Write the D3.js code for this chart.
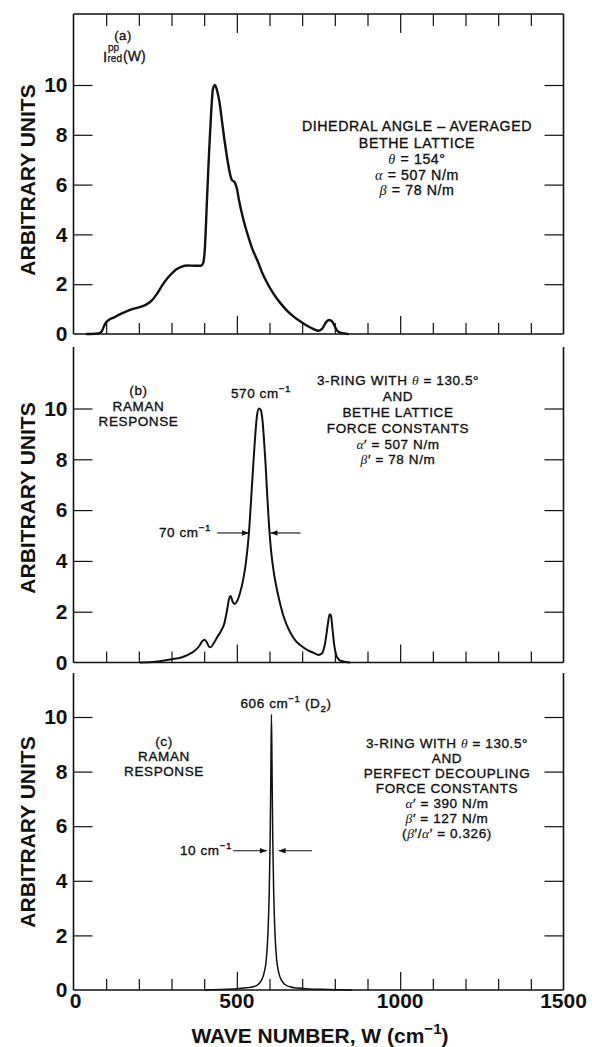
<!DOCTYPE html>
<html><head><meta charset="utf-8">
<script src="https://cdn.jsdelivr.net/npm/d3@7"></script>
<style>
html,body{margin:0;padding:0;background:#fff;}
svg{display:block;}
text{font-family:"Liberation Sans",Arial,Helvetica,sans-serif;fill:#111;}
</style></head><body>
<svg id="chart" width="592" height="1047"></svg>
<script>
// ---------------- data ----------------
const xTicks = d3.range(0, 1501, 100);
const xTickLabels = [0, 500, 1000, 1500];
const yTicks = [0, 2, 4, 6, 8, 10];

// (a) I_red^pp(W), dihedral-angle averaged Bethe lattice
const seriesA = [[40,0],[75,0.02],[86,0.1],[93,0.3],[100,0.47],[112,0.6],[123,0.66],[140,0.78],[164,0.92],[185,1.02],[205,1.09],[225,1.2],[240,1.35],[255,1.6],[270,1.92],[285,2.2],[300,2.42],[315,2.6],[330,2.7],[350,2.75],[370,2.74],[390,2.74],[397,2.85],[402,3.4],[408,5.2],[415,7.3],[421,8.8],[427,9.85],[433,10.0],[440,9.75],[447,9.3],[455,8.5],[462,7.8],[470,7.1],[478,6.5],[485,6.18],[493,6.1],[500,5.85],[507,5.35],[520,4.6],[533,4.0],[548,3.4],[563,2.95],[578,2.45],[593,2.05],[613,1.6],[634,1.23],[655,0.92],[675,0.69],[695,0.5],[715,0.33],[735,0.2],[750,0.13],[762,0.22],[772,0.45],[782,0.56],[792,0.5],[800,0.3],[808,0.12],[820,0.04],[840,0]];

// (b) Raman response, 3-ring with Bethe lattice force constants
const seriesB = [[205,0],[250,0.03],[300,0.13],[330,0.2],[350,0.3],[370,0.45],[385,0.65],[395,0.85],[401,0.9],[408,0.8],[415,0.62],[420,0.6],[430,0.78],[440,1.0],[452,1.25],[462,1.55],[470,2.05],[476,2.5],[481,2.62],[487,2.4],[493,2.3],[500,2.4],[510,2.75],[520,3.3],[528,3.95],[537,5.1],[547,7.1],[555,8.7],[562,9.75],[568,10.0],[573,9.95],[578,9.6],[583,8.8],[588,7.8],[593,6.6],[598,5.5],[604,4.5],[612,3.65],[620,3.05],[630,2.45],[640,1.95],[652,1.5],[665,1.15],[680,0.85],[695,0.68],[715,0.5],[735,0.38],[750,0.3],[760,0.35],[770,0.75],[778,1.45],[784,1.9],[788,1.85],[793,1.3],[798,0.7],[804,0.3],[812,0.12],[825,0.04],[845,0]];

// (c) Raman response, 3-ring with perfect decoupling force constants
const seriesC = [[400,0],[450,0.02],[500,0.05],[530,0.08],[550,0.12],[565,0.2],[575,0.35],[583,0.6],[590,1.1],[595,2.0],[599,3.5],[602,5.5],[604,7.8],[606,10.1],[608,7.8],[610,5.5],[613,3.5],[617,2.0],[622,1.1],[629,0.6],[637,0.35],[647,0.2],[662,0.12],[685,0.07],[720,0.04],[780,0.02],[850,0]];

// half-width markers [left head, right head, left tail, right tail, level]
const fwhmB = [537, 603, 440, 695, 5.1];
const fwhmC = [592, 628, 489, 730, 5.1];

// ---------------- layout ----------------
const svg = d3.select('#chart');
const x = d3.scaleLinear().domain([0, 1500]).range([73.5, 563.5]);

const panels = [
  {key:'a', data:seriesA, top:14,  y0:334,   y10:85,    border:true,  lw:2.4, titleY:180},
  {key:'b', data:seriesB, top:347, y0:662.5, y10:408.5, border:false, lw:2.0, titleY:498},
  {key:'c', data:seriesC, top:673, y0:990,   y10:717,   border:false, lw:1.5, titleY:832}
];

svg.append('defs').append('marker')
  .attr('id','ah').attr('viewBox','0 0 10 10').attr('refX',10).attr('refY',5)
  .attr('markerWidth',8).attr('markerHeight',7).attr('markerUnits','userSpaceOnUse')
  .attr('orient','auto')
  .append('path').attr('d','M0,1 L10,5 L0,9 Z').attr('fill','#111');

function rich(g, px, py, str, size, opts = {}) {
  const t = g.append('text').attr('x', px).attr('y', py)
    .attr('text-anchor', opts.anchor || 'middle')
    .style('font-size', size + 'px')
    .style('font-weight', opts.weight || 'normal')
    .style('letter-spacing', (opts.ls || 0) + 'px');
  if (opts.stroke) t.style('stroke', '#111').style('stroke-width', opts.stroke);
  let cur = 0;
  str.split(/(\^\{[^}]*\}|_\{[^}]*\}|[θαβ])/).filter(s => s.length).forEach(s => {
    let shift = 0, txt = s, fs = null, greek = false;
    if (s.startsWith('^{')) { shift = -0.42 * size; txt = s.slice(2, -1); fs = 0.72 * size; }
    else if (s.startsWith('_{')) { shift = 0.28 * size; txt = s.slice(2, -1); fs = 0.72 * size; }
    else if (/[θαβ]/.test(s)) greek = true;
    const sp = t.append('tspan').attr('dy', shift - cur).text(txt);
    cur = shift;
    if (fs) sp.style('font-size', fs + 'px');
    if (greek) sp.style('font-family', '"Liberation Serif",serif').style('font-style', 'italic')
      .style('font-weight', 'normal').style('stroke', 'none');
  });
  return t;
}

const panelY = {};
panels.forEach(p => {
  const y = d3.scaleLinear().domain([0, 10]).range([p.y0, p.y10]);
  panelY[p.key] = y;
  const g = svg.append('g').attr('class', 'panel-' + p.key);
  const xl = x(0), xr = x(1500);

  // frame lines
  const frame = g.append('g').attr('stroke', '#111').attr('stroke-width', 1.6).attr('fill', 'none');
  frame.append('line').attr('x1', xl).attr('x2', xl).attr('y1', p.top).attr('y2', p.y0);
  frame.append('line').attr('x1', xr).attr('x2', xr).attr('y1', p.top).attr('y2', p.y0);
  frame.append('line').attr('x1', xl).attr('x2', xr).attr('y1', p.y0).attr('y2', p.y0);
  if (p.border) frame.append('line').attr('x1', xl).attr('x2', xr).attr('y1', p.top).attr('y2', p.top);

  // bottom ticks (inward)
  const bx = g.append('g').attr('transform', `translate(0,${p.y0})`)
    .call(d3.axisBottom(x).tickValues(xTicks.filter(v => v > 0 && v < 1500)).tickSize(-11).tickFormat(''));
  bx.select('.domain').remove();
  bx.selectAll('.tick line').attr('y2', d => d % 500 === 0 ? -18 : -11).attr('stroke', '#111').attr('stroke-width', 1.2);

  if (p.border) {
    const tx = g.append('g').attr('transform', `translate(0,${p.top})`)
      .call(d3.axisTop(x).tickValues(xTicks.filter(v => v > 0 && v < 1500)).tickSize(-12).tickFormat(''));
    tx.select('.domain').remove();
    tx.selectAll('.tick line').attr('y2', d => d % 500 === 0 ? 19 : 12).attr('stroke', '#111').attr('stroke-width', 1.2);
  }

  // left axis
  const ly = g.append('g').attr('transform', `translate(${xl},0)`)
    .call(d3.axisLeft(y).tickValues(yTicks).tickSize(-19).tickPadding(6).tickFormat(d3.format('d')));
  ly.select('.domain').remove();
  ly.selectAll('.tick line').attr('stroke', '#111').attr('stroke-width', 1.2).attr('opacity', d => d === 0 ? 0 : 1);
  ly.selectAll('.tick text').style('font-size', '21px').style('font-weight', 'bold')
    .style('font-family', '"Liberation Sans",Arial,sans-serif').attr('fill', '#111');

  // right axis
  const ry = g.append('g').attr('transform', `translate(${xr},0)`)
    .call(d3.axisRight(y).tickValues(yTicks.filter(v => v > 0)).tickSize(-19).tickFormat(''));
  ry.select('.domain').remove();
  ry.selectAll('.tick line').attr('stroke', '#111').attr('stroke-width', 1.2);

  // y title
  g.append('text').attr('transform', `translate(35,${p.titleY}) rotate(-90)`)
    .attr('text-anchor', 'middle').style('font-size', '21px').style('font-weight', 'bold')
    .text('ARBITRARY UNITS');

  // curve
  const line = d3.line().x(d => x(d[0])).y(d => y(d[1])).curve(d3.curveMonotoneX);
  g.append('path').datum(p.data).attr('d', line)
    .attr('fill', 'none').attr('stroke', '#111').attr('stroke-width', p.lw)
    .attr('stroke-linejoin', 'round').attr('stroke-linecap', 'round');
});

// bottom tick labels and title
const lab = svg.append('g');
xTickLabels.forEach(v => {
  lab.append('text').attr('x', x(v) + (v === 0 ? 2 : 0)).attr('y', 1008).attr('text-anchor', 'middle')
    .style('font-size', '21px').style('font-weight', 'bold').text(v);
});
rich(lab, 320, 1043, 'WAVE NUMBER, W (cm^{−1})', 21, {weight: 'bold'});

// ---------------- annotations ----------------
const ann = svg.append('g');
const AS = 13.5, ALS = 0.6, AST = 0.35;
const o = {ls: ALS, stroke: AST};

// (a)
rich(ann, 123, 40, '(a)', 13, o);
ann.append('text').attr('x', 103).attr('y', 62).style('font-size', '15px').style('stroke', '#111').style('stroke-width', 0.3).text('I');
ann.append('text').attr('x', 108).attr('y', 51).style('font-size', '10px').style('stroke', '#111').style('stroke-width', 0.25).text('pp');
ann.append('text').attr('x', 107.5).attr('y', 62).style('font-size', '10px').style('stroke', '#111').style('stroke-width', 0.25).text('red');
ann.append('text').attr('x', 123).attr('y', 61).style('font-size', '14px').style('stroke', '#111').style('stroke-width', 0.3).text('(W)');
[['DIHEDRAL ANGLE – AVERAGED', 131], ['BETHE LATTICE', 147.5], ['θ = 154°', 164], ['α = 507 N/m', 179.5], ['β = 78 N/m', 195]]
  .forEach(([s, yy]) => rich(ann, 417, yy, s, 14.2, o));

// (b)
[['(b)', 395], ['RAMAN', 411], ['RESPONSE', 426]].forEach(([s, yy]) => rich(ann, 138.5, yy, s, AS, o));
rich(ann, 261, 398, '570 cm^{−1}', AS, o);
[['3-RING WITH θ = 130.5°', 385], ['AND', 401], ['BETHE LATTICE', 417], ['FORCE CONSTANTS', 432.5], ['α′ = 507 N/m', 448.5], ['β′ = 78 N/m', 463.5]]
  .forEach(([s, yy]) => rich(ann, 398, yy, s, AS, o));
rich(ann, 211, 537, '70 cm^{−1}', AS, {anchor: 'end', ls: ALS, stroke: AST});

// (c)
rich(ann, 286, 708, '606 cm^{−1} (D_{2})', AS, o);
[['(c)', 746], ['RAMAN', 761], ['RESPONSE', 776]].forEach(([s, yy]) => rich(ann, 164, yy, s, AS, o));
[['3-RING WITH θ = 130.5°', 748], ['AND', 763], ['PERFECT DECOUPLING', 778], ['FORCE CONSTANTS', 793], ['α′ = 390 N/m', 808], ['β′ = 127 N/m', 823], ['(β′/α′ = 0.326)', 838]]
  .forEach(([s, yy]) => rich(ann, 447, yy, s, AS, o));
rich(ann, 232, 855, '10 cm^{−1}', AS, {anchor: 'end', ls: ALS, stroke: AST});

// FWHM arrows
function arrows(y, f) {
  const yy = y(f[4]);
  ann.append('line').attr('x1', x(f[2])).attr('x2', x(f[0])).attr('y1', yy).attr('y2', yy)
    .attr('stroke', '#111').attr('stroke-width', 1.1).attr('marker-end', 'url(#ah)');
  ann.append('line').attr('x1', x(f[3])).attr('x2', x(f[1])).attr('y1', yy).attr('y2', yy)
    .attr('stroke', '#111').attr('stroke-width', 1.1).attr('marker-end', 'url(#ah)');
}
arrows(panelY.b, fwhmB);
arrows(panelY.c, fwhmC);
</script>
</body></html>
